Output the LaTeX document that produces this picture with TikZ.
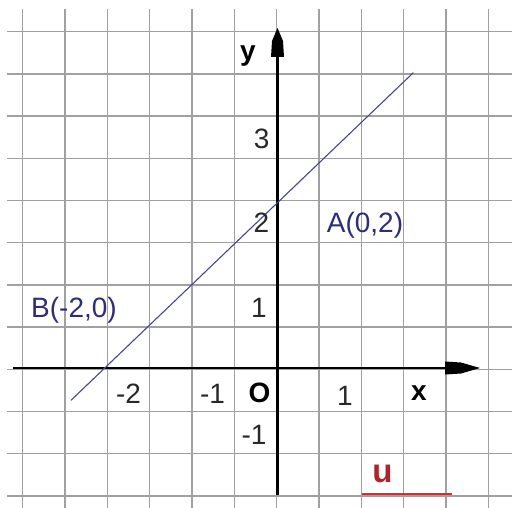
\documentclass[tikz,border=0pt]{standalone}
\usepackage{fontspec}
\setmainfont{Liberation Sans}
\definecolor{gridgray}{RGB}{160,160,160}
\definecolor{navy}{RGB}{45,45,120}
\definecolor{linecol}{RGB}{70,70,150}
\definecolor{ured}{RGB}{175,35,45}
\definecolor{lred}{RGB}{210,45,50}
\definecolor{numcol}{RGB}{40,40,40}
\begin{document}
\begin{tikzpicture}[x=1pt,y=-1pt,
  gridline/.style={draw=gridgray,line width=1.4pt},
  axisline/.style={draw=black,line width=2.4pt},
  tiplbl/.style={fill=black},
  numlbl/.style={inner sep=0pt,text=numcol,font=\fontsize{28}{30}\selectfont},
  ptlbl/.style={inner sep=0pt,text=navy,font=\fontsize{28}{30}\selectfont},
  axlbl/.style={inner sep=0pt,text=black,font=\fontsize{28}{30}\selectfont\bfseries},
]
\fill[white] (0,0) rectangle (512,508);
\useasboundingbox (0,0) rectangle (512,508);
% grid
\foreach \k in {0,...,11} {
  \draw[gridline] ({22.7+42.33*\k},9) -- ({22.7+42.33*\k},508);
  \draw[gridline] (7,{31.7+42.2*\k}) -- (512,{31.7+42.2*\k});
}
% axes
\coordinate (xs) at (13,368);
\coordinate (xe) at (446,368);
\coordinate (ys) at (277.5,495);
\coordinate (ye) at (277.5,56);
\draw[axisline] (xs) -- (xe);
\draw[axisline] (ys) -- (ye);
\fill[tiplbl] (445,361.5) -- (461,362.5) -- (480,368) -- (461,373.5) -- (445,374.5) -- cycle;
\fill[tiplbl] (271,57) -- (272,41) -- (277.5,28) -- (283,41) -- (284,57) -- cycle;
% line
\coordinate (L1) at (71,400.3);
\coordinate (L2) at (413.3,72.7);
\draw[linecol,line width=1.1pt] (L1) -- (L2);
% labels
\node[axlbl] (ylab) at (248,56) {y};
\node[axlbl] (xlab) at (419,393) {x};
\node[axlbl] (olab) at (259.5,393) {O};
\node[numlbl] (n3) at (261.7,139.2) {3};
\node[numlbl] (n2) at (261.5,222.5) {2};
\node[numlbl] (n1y) at (259,308) {1};
\node[numlbl] (nm1y) at (254,435) {-1};
\node[numlbl] (nm2) at (128.5,394) {-2};
\node[numlbl] (nm1x) at (212.5,394) {-1};
\node[numlbl] (n1x) at (345,396) {1};
\node[ptlbl] (A) at (365,225) {A(0,2)};
\node[ptlbl] (B) at (74,310) {B(-2,0)};
\node[axlbl,text=ured,font=\fontsize{33}{35}\selectfont\bfseries] (u) at (382.5,474) {u};
\coordinate (u1) at (361.7,493.5);
\coordinate (u2) at (451.7,493.5);
\draw[lred,line width=2pt] (u1) -- (u2);
\end{tikzpicture}
\end{document}
